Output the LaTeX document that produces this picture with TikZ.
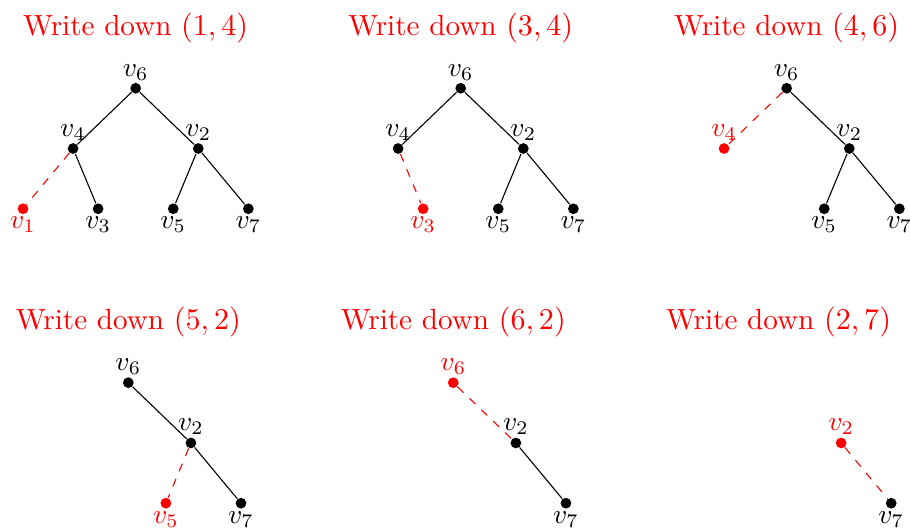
\documentclass[tikz,border=0pt]{standalone}
\usepackage{amsmath}
\usepackage{tikz}
\usetikzlibrary{positioning}

\begin{document}
\begin{tikzpicture}[on grid,
    vtx/.style={circle, fill=black, inner sep=0pt, minimum size=3.9pt},
    hit/.style={circle, fill=red, inner sep=0pt, minimum size=3.9pt},
    del/.style={dashed, color=red},
    caption/.style={color=red, inner sep=0pt, font=\fontsize{10.6}{12}\selectfont},
    every label/.style={inner sep=0.6pt},
    label distance=0pt]
    \useasboundingbox (0,0) rectangle (11.63,-6.761);

    % (1,4)
    \node[vtx, label=above:$v_6$] (p1v6) at (1.734,-1.128) {};
    \node[caption, above=0.77cm of p1v6] (p1t) {Write down $(1,4)$};
    \node[vtx, label=above:$v_4$, below left=0.77cm and 0.8cm of p1v6] (p1v4) {};
    \node[vtx, label=above:$v_2$, below right=0.77cm and 0.8cm of p1v6] (p1v2) {};
    \node[hit, label={[red]below:$v_1$}, below left=0.77cm and 0.64cm of p1v4] (p1v1) {};
    \node[vtx, label=below:$v_3$, below right=0.77cm and 0.32cm of p1v4] (p1v3) {};
    \node[vtx, label=below:$v_5$, below left=0.77cm and 0.32cm of p1v2] (p1v5) {};
    \node[vtx, label=below:$v_7$, below right=0.77cm and 0.64cm of p1v2] (p1v7) {};
    \draw (p1v6) -- (p1v4);
    \draw (p1v6) -- (p1v2);
    \draw (p1v4) -- (p1v3);
    \draw (p1v2) -- (p1v5);
    \draw (p1v2) -- (p1v7);
    \draw[del] (p1v4) -- (p1v1);

    % (3,4)
    \node[vtx, label=above:$v_6$] (p2v6) at (5.888,-1.128) {};
    \node[caption, above=0.77cm of p2v6] (p2t) {Write down $(3,4)$};
    \node[vtx, label=above:$v_4$, below left=0.77cm and 0.8cm of p2v6] (p2v4) {};
    \node[vtx, label=above:$v_2$, below right=0.77cm and 0.8cm of p2v6] (p2v2) {};
    \node[hit, label={[red]below:$v_3$}, below right=0.77cm and 0.32cm of p2v4] (p2v3) {};
    \node[vtx, label=below:$v_5$, below left=0.77cm and 0.32cm of p2v2] (p2v5) {};
    \node[vtx, label=below:$v_7$, below right=0.77cm and 0.64cm of p2v2] (p2v7) {};
    \draw (p2v6) -- (p2v4);
    \draw (p2v6) -- (p2v2);
    \draw (p2v2) -- (p2v5);
    \draw (p2v2) -- (p2v7);
    \draw[del] (p2v4) -- (p2v3);

    % (4,6)
    \node[vtx, label=above:$v_6$] (p3v6) at (10.054,-1.128) {};
    \node[caption, above=0.77cm of p3v6] (p3t) {Write down $(4,6)$};
    \node[hit, label={[red]above:$v_4$}, below left=0.77cm and 0.8cm of p3v6] (p3v4) {};
    \node[vtx, label=above:$v_2$, below right=0.77cm and 0.8cm of p3v6] (p3v2) {};
    \node[vtx, label=below:$v_5$, below left=0.77cm and 0.32cm of p3v2] (p3v5) {};
    \node[vtx, label=below:$v_7$, below right=0.77cm and 0.64cm of p3v2] (p3v7) {};
    \draw (p3v6) -- (p3v2);
    \draw (p3v2) -- (p3v5);
    \draw (p3v2) -- (p3v7);
    \draw[del] (p3v6) -- (p3v4);

    % (5,2)
    \node[vtx, label=above:$v_6$] (p4v6) at (1.640,-4.891) {};
    \node[caption, above=0.77cm of p4v6] (p4t) {Write down $(5,2)$};
    \node[vtx, label=above:$v_2$, below right=0.77cm and 0.8cm of p4v6] (p4v2) {};
    \node[hit, label={[red]below:$v_5$}, below left=0.77cm and 0.32cm of p4v2] (p4v5) {};
    \node[vtx, label=below:$v_7$, below right=0.77cm and 0.64cm of p4v2] (p4v7) {};
    \draw (p4v6) -- (p4v2);
    \draw (p4v2) -- (p4v7);
    \draw[del] (p4v2) -- (p4v5);

    % (6,2)
    \node[hit, label={[red]above:$v_6$}] (p5v6) at (5.793,-4.891) {};
    \node[caption, above=0.77cm of p5v6] (p5t) {Write down $(6,2)$};
    \node[vtx, label=above:$v_2$, below right=0.77cm and 0.8cm of p5v6] (p5v2) {};
    \node[vtx, label=below:$v_7$, below right=0.77cm and 0.64cm of p5v2] (p5v7) {};
    \draw (p5v2) -- (p5v7);
    \draw[del] (p5v6) -- (p5v2);

    % (2,7)
    \node[caption] (p6t) at (9.950,-4.121) {Write down $(2,7)$};
    \node[hit, label={[red]above:$v_2$}] (p6v2) at (10.750,-5.661) {};
    \node[vtx, label=below:$v_7$, below right=0.77cm and 0.64cm of p6v2] (p6v7) {};
    \draw[del] (p6v2) -- (p6v7);
\end{tikzpicture}
\end{document}
